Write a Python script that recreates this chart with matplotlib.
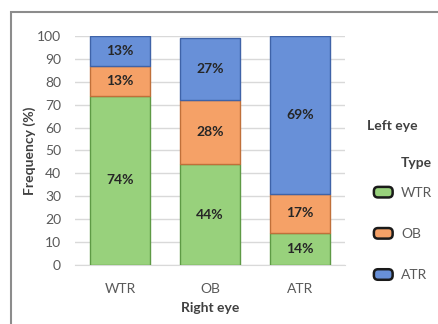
import numpy as np
import matplotlib.pyplot as plt
from matplotlib.patches import Rectangle, Patch, FancyBboxPatch
from matplotlib.legend_handler import HandlerPatch

plt.rcParams['font.family'] = ['Lato', 'DejaVu Sans']

# right eye type on x, left eye type stacked
right_eye = ['WTR', 'OB', 'ATR']
wtr = [74, 44, 14]
ob = [13, 28, 17]
atr = [13, 27, 69]

colors = ['#98D17C', '#F5A167', '#6890D8']
edges = ['#5E9A45', '#C0703A', '#3F63A8']

fig = plt.figure(figsize=(4.38, 3.24), dpi=100)
ax = fig.add_axes([0.171, 0.182, 0.617, 0.707])

x = np.arange(len(right_eye))
bottom = np.zeros(len(right_eye))
for vals, c, e, name in zip([wtr, ob, atr], colors, edges, ['WTR', 'OB', 'ATR']):
    ax.bar(x, vals, 0.66, bottom=bottom, color=c, edgecolor=e, linewidth=1.0,
           label=name, zorder=3)
    for xi, v, bt in zip(x, vals, bottom):
        ax.text(xi, bt + v / 2, str(v) + '%', ha='center', va='center',
                fontsize=10, fontweight='bold', color='#262626', zorder=4)
    bottom = bottom + np.array(vals)

ax.set_xlim(-0.5, 2.5)
ax.set_ylim(0, 100)
ax.set_yticks(range(0, 101, 10))
ax.set_xticks(x)
ax.set_xticklabels(right_eye)
ax.yaxis.grid(True, color='#D9D9D9', linewidth=1, zorder=0)
ax.set_axisbelow(True)
for s in ['top', 'right', 'left']:
    ax.spines[s].set_visible(False)
ax.spines['bottom'].set_color('#D9D9D9')
ax.tick_params(axis='both', length=0, labelsize=10, colors='#595959')
ax.tick_params(axis='x', pad=13)
ax.tick_params(axis='y', pad=10)
ax.set_ylabel('Frequency (%)', fontsize=10, fontweight='bold', color='#404040')
ax.yaxis.set_label_coords(-0.145, 0.5)
ax.set_xlabel('Right eye', fontsize=10, fontweight='bold', color='#404040', labelpad=5)


# rounded legend keys
def round_key(legend, orig_handle, xdescent, ydescent, width, height, fontsize):
    return FancyBboxPatch((-xdescent + 1, -ydescent + 1), width - 2, height - 2,
                          boxstyle='round,pad=0,rounding_size=3')


fig.text(367 / 438, 1 - 126 / 324, 'Left eye', fontsize=10, fontweight='bold',
         color='#404040', va='center', ha='left')
fig.text(401 / 438, 1 - 163 / 324, 'Type', fontsize=10, fontweight='bold',
         color='#404040', va='center', ha='left')
handles = [Patch(facecolor=c, edgecolor='#1a1a1a', linewidth=1.8) for c in colors]
leg = fig.legend(handles, ['WTR', 'OB', 'ATR'], loc='upper left',
                 bbox_to_anchor=(360 / 438, 1 - 173 / 324), frameon=False,
                 fontsize=10, labelspacing=2.0, handlelength=1.55, handleheight=1.1,
                 handletextpad=0.5,
                 handler_map={Patch: HandlerPatch(patch_func=round_key)})
for t in leg.get_texts():
    t.set_color('#595959')

# outer frame
fig.patches.append(Rectangle((11 / 438, -0.05), 1.0, 1 - 12 / 324 + 0.05,
                             transform=fig.transFigure, fill=False,
                             edgecolor='#8C8C8C', linewidth=1.5))

fig.savefig('out.png', dpi=100)
